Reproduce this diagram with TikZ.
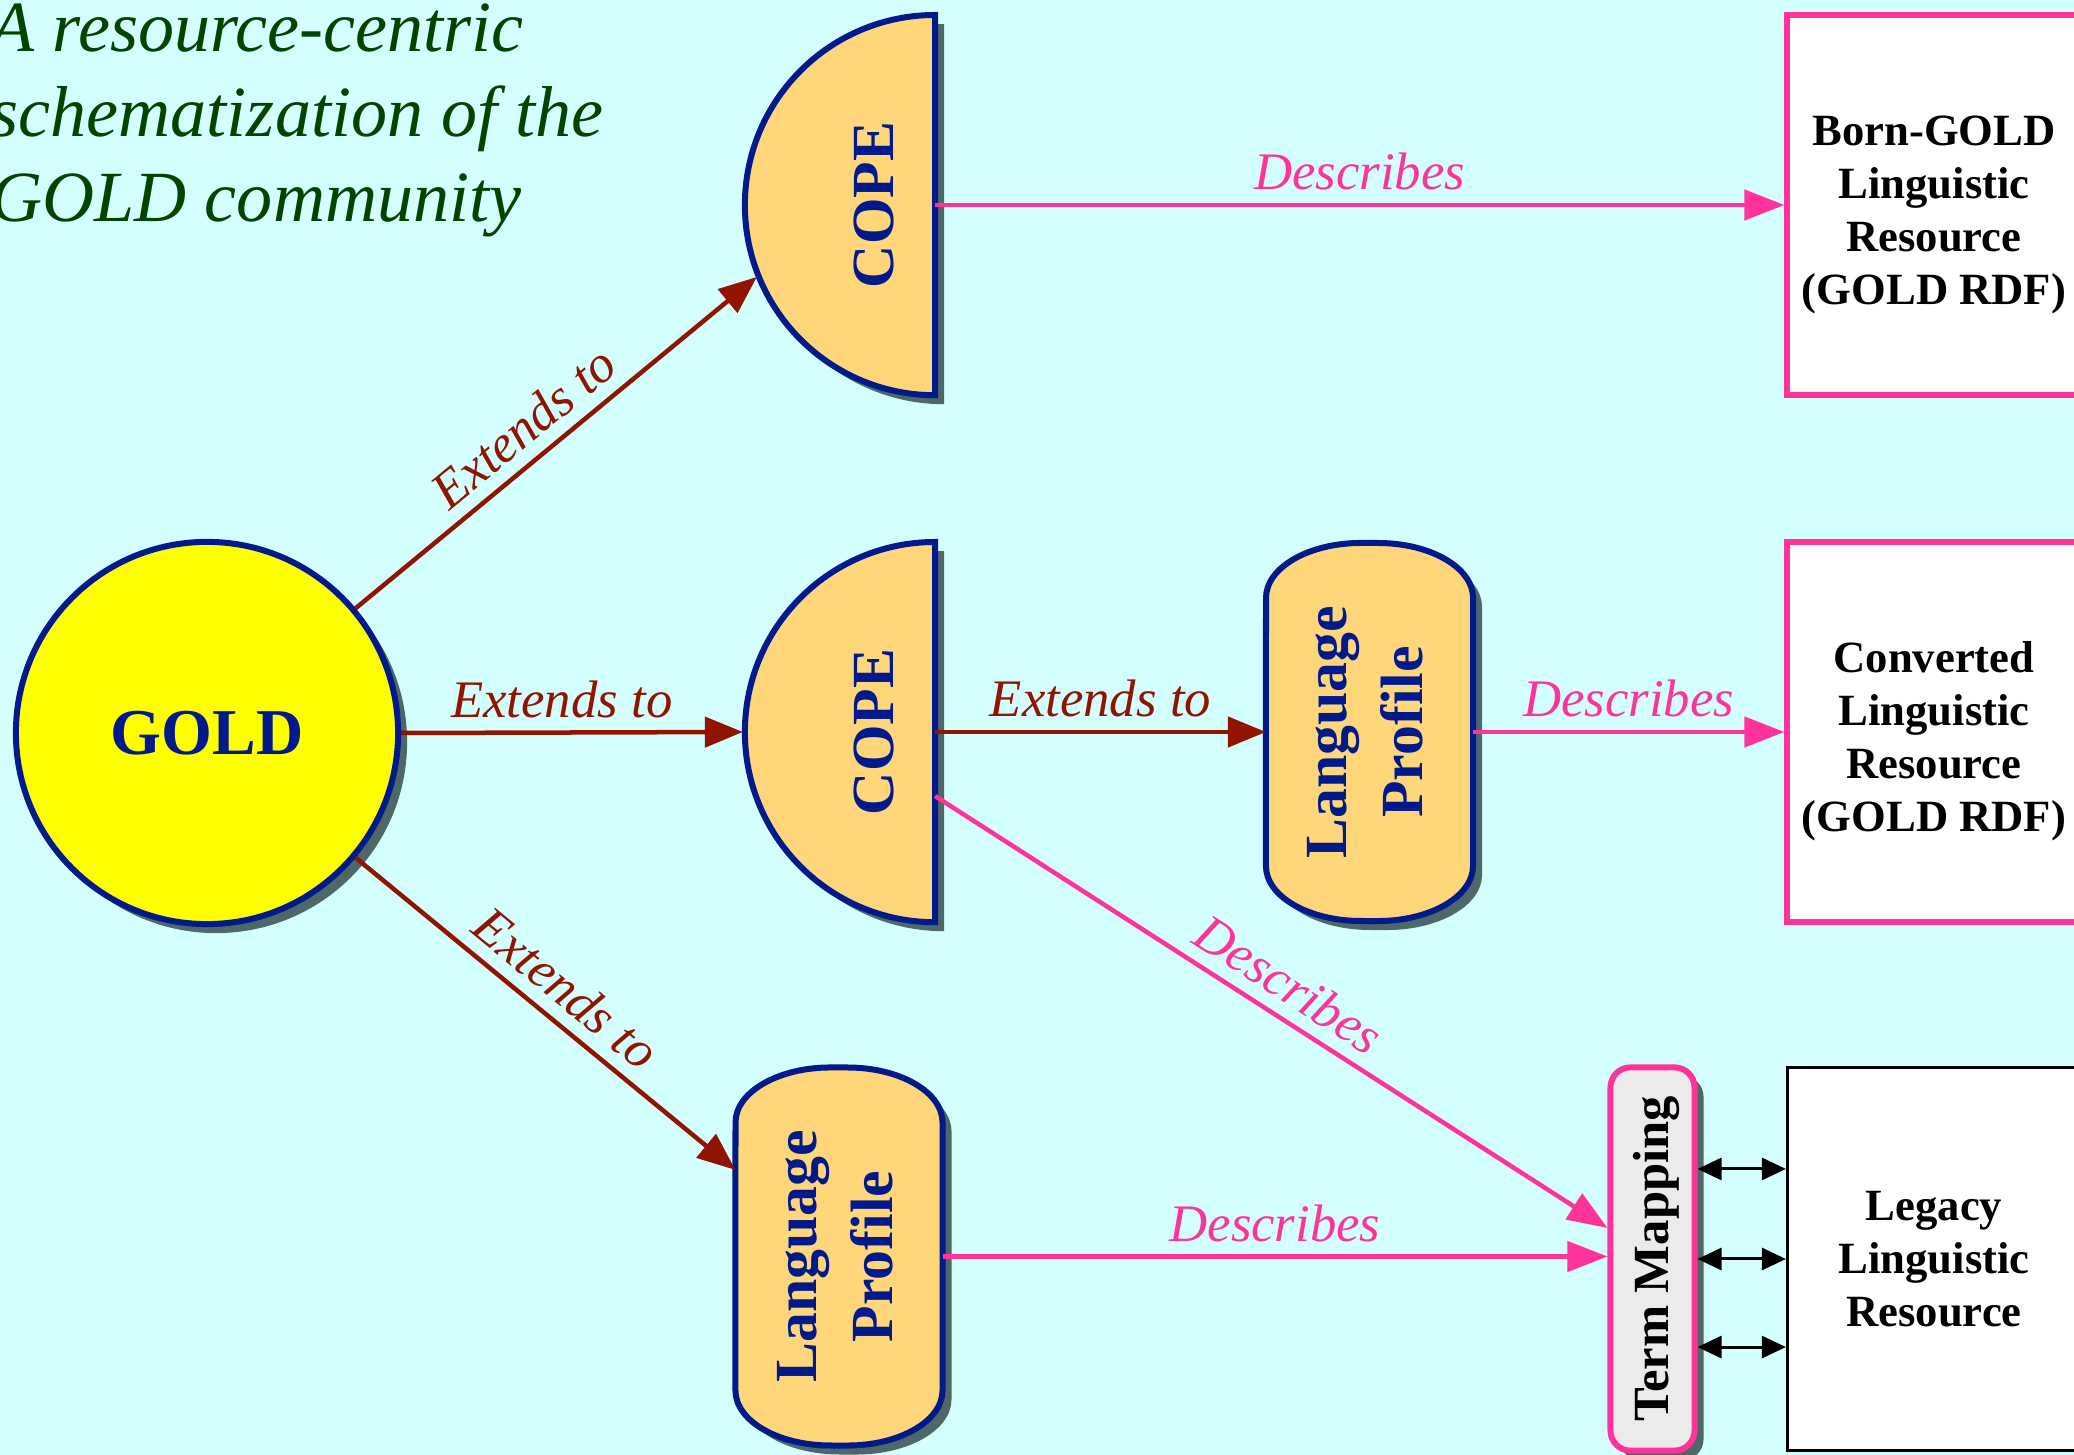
\documentclass[tikz,border=0pt]{standalone}
\usepackage{fontspec}
\setmainfont{Liberation Serif}
\usepackage{graphicx}
\usetikzlibrary{arrows.meta,shadows}
\definecolor{bgc}{RGB}{212,255,255}
\definecolor{goldfill}{RGB}{255,255,0}
\definecolor{nblue}{RGB}{0,26,140}
\definecolor{orng}{RGB}{255,214,122}
\definecolor{dred}{RGB}{145,20,0}
\definecolor{pinkc}{RGB}{255,51,153}
\definecolor{tgreen}{RGB}{0,68,0}
\definecolor{tmgray}{RGB}{235,235,235}
\definecolor{shad}{RGB}{45,65,65}
\begin{document}
\begin{tikzpicture}[x=0.01cm,y=0.01cm,
  shd/.style={drop shadow={shadow xshift=0.09cm,shadow yshift=-0.09cm,fill=shad,opacity=0.8}},
  shapestyle/.style={fill=orng,draw=nblue,line width=0.06cm,shd},
  bt/.style={font=\fontsize{17}{21.6}\selectfont\bfseries,text=nblue},
  hidden/.style={inner sep=0pt,outer sep=0pt},
  lab/.style={font=\fontsize{15}{17}\selectfont\itshape,inner sep=3.5pt},
  ext/.style={draw=dred,line width=0.045cm,-{Triangle[length=0.38cm,width=0.3cm]}},
  des/.style={draw=pinkc,line width=0.045cm,-{Triangle[length=0.4cm,width=0.3cm]}},
  dbl/.style={draw=black,line width=0.03cm,{Triangle[length=0.24cm,width=0.22cm]}-{Triangle[length=0.24cm,width=0.22cm]}},
  resbox/.style={rectangle,fill=white,line width=0.06cm,minimum width=2.93cm,minimum height=3.80cm,align=center,font=\fontsize{12.7}{15.1}\selectfont\bfseries},
  lpshape/.pic={
    \path[shapestyle] (-103.5,134) arc[start angle=180,end angle=90,x radius=0.95cm,y radius=0.55cm]
      -- (8.5,189) arc[start angle=90,end angle=0,x radius=0.95cm,y radius=0.55cm]
      -- (103.5,-134) arc[start angle=0,end angle=-90,x radius=0.95cm,y radius=0.55cm]
      -- (-8.5,-189) arc[start angle=-90,end angle=-180,x radius=0.95cm,y radius=0.55cm]
      -- cycle;
  }
]
\useasboundingbox (0,0) rectangle (2074,-1455);
\clip (0,0) rectangle (2074,-1455);
\fill[bgc] (0,0) rectangle (2074,-1455);

% title
\node[anchor=base west,align=left,inner sep=0pt,font=\fontsize{20.5}{24.2}\selectfont\itshape,text=tgreen] (title) at (-10,-222)
  {A resource-centric\\schematization of the\\GOLD community};

% drawn shapes
\path[shapestyle] (935,-15) arc[start angle=90,end angle=270,radius=1.9cm] -- cycle;
\path[shapestyle] (935,-542) arc[start angle=90,end angle=270,radius=1.9cm] -- cycle;
\pic at (1369.5,-732) {lpshape};
\pic at (839,-1256.5) {lpshape};

% nodes
\node[circle,minimum size=3.82cm,inner sep=0pt,fill=goldfill,draw=nblue,line width=0.06cm,shd,
      font=\fontsize{18.6}{20}\selectfont\bfseries,text=nblue] (gold) at (207,-733) {GOLD};
\node[circle,minimum size=3.84cm,hidden] (cope1) at (935,-205) {};
\node[circle,minimum size=3.84cm,hidden] (cope2) at (935,-732) {};
\node[bt] (cope1t) at (874,-205) {\rotatebox{90}{COPE}};
\node[bt] (cope2t) at (874,-732) {\rotatebox{90}{COPE}};
\node[bt,hidden,minimum width=2.07cm,minimum height=3.78cm] (lp1) at (1369.5,-732)
  {\rotatebox{90}{\begin{tabular}{@{}c@{}}Language\\Profile\end{tabular}}};
\node[bt,hidden,minimum width=2.07cm,minimum height=3.78cm] (lp2) at (839,-1256.5)
  {\rotatebox{90}{\begin{tabular}{@{}c@{}}Language\\Profile\end{tabular}}};
\node[rectangle,rounded corners=0.2cm,minimum width=0.84cm,minimum height=3.83cm,fill=tmgray,draw=pinkc,
      line width=0.06cm,shd,inner sep=0pt,font=\fontsize{14.4}{15}\selectfont\bfseries] (tm) at (1652.5,-1259)
  {\hspace{0.08cm}\rotatebox{90}{Term Mapping}};
\node[resbox,draw=pinkc] (born) at (1934,-205) {\rule{0pt}{0.5cm}Born-GOLD\\Linguistic\\Resource\\(GOLD RDF)};
\node[resbox,draw=pinkc] (conv) at (1934,-732) {\rule{0pt}{0.5cm}Converted\\Linguistic\\Resource\\(GOLD RDF)};
\node[resbox,draw=black,line width=0.03cm,minimum height=3.83cm] (leg) at (1934,-1259) {Legacy\\Linguistic\\Resource};

% connectors
\draw[ext] (gold.40) -- node[lab,text=dred,sloped,above,pos=0.47] {Extends to} (cope1.202);
\draw[ext] (gold.east) -- node[lab,text=dred,above,pos=0.47] {Extends to} (cope2.west);
\coordinate (lpin) at ([yshift=0.865cm]lp2.west);
\draw[ext] (gold.-40) -- node[lab,text=dred,sloped,above,pos=0.5] {Extends to} (lpin);
\draw[ext] (cope2.center) -- node[lab,text=dred,above] {Extends to} (lp1.west);
\draw[des] (cope1.center) -- node[lab,text=pinkc,above] {Describes} (born.west);
\draw[des] (lp1.east) -- node[lab,text=pinkc,above] {Describes} (conv.west);
\coordinate (c2out) at ([yshift=-0.64cm]cope2.center);
\coordinate (tmin) at ([yshift=0.31cm]tm.west);
\draw[des] (c2out) -- node[lab,text=pinkc,sloped,above,pos=0.5] {Describes} (tmin);
\draw[des] (lp2.east) -- node[lab,text=pinkc,above] {Describes} (lp2.east -| tm.west);
\coordinate (d1) at ([yshift=0.9cm]tm.east);
\coordinate (d2) at (tm.east);
\coordinate (d3) at ([yshift=-0.88cm]tm.east);
\draw[dbl] (d1) -- (d1 -| leg.west);
\draw[dbl] (d2) -- (d2 -| leg.west);
\draw[dbl] (d3) -- (d3 -| leg.west);
\end{tikzpicture}
\end{document}
